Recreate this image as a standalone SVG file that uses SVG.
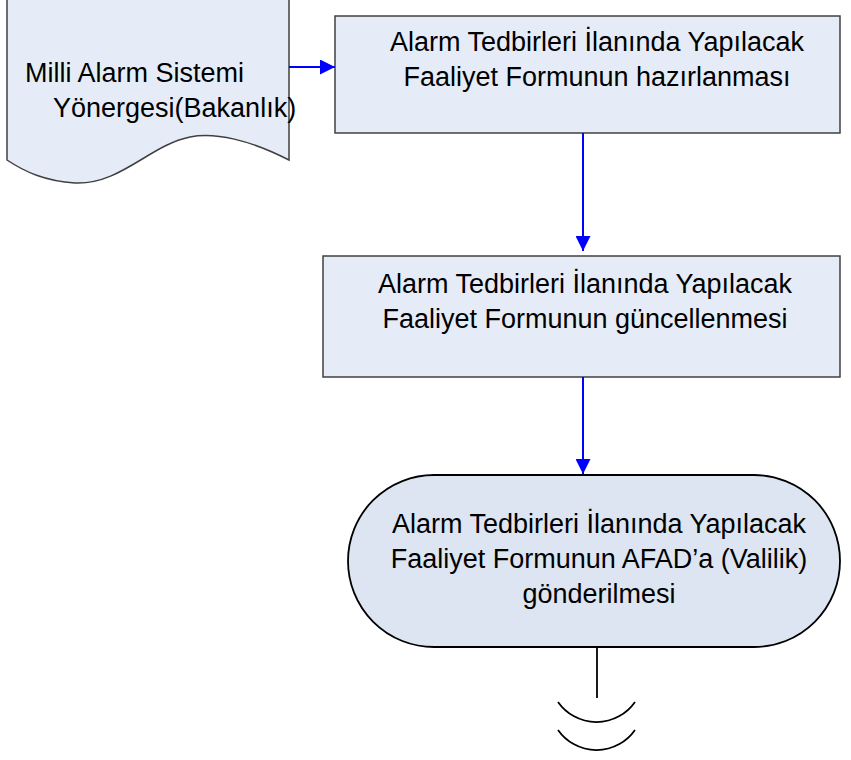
<svg xmlns="http://www.w3.org/2000/svg" width="851" height="760" viewBox="0 0 851 760">
<style>
.box{fill:#E6ECF7;stroke:#404040;stroke-width:1.5}
.term{fill:#DCE5F1;stroke:#000;stroke-width:1.8}
.t{font-family:"Liberation Sans",Arial,sans-serif;font-size:27px;fill:#000}
.c{text-anchor:middle}
.conn{stroke:#0000FF;stroke-width:2;fill:none}
.blk{stroke:#000;stroke-width:1.8;fill:none}
</style>
<defs>
<marker id="ah" viewBox="0 0 10 10" refX="10" refY="5" markerWidth="15" markerHeight="15" markerUnits="userSpaceOnUse" orient="auto">
<path d="M0,0 L10,5 L0,10 z" fill="#0000FF"/>
</marker>
</defs>
<rect width="851" height="760" fill="#fff"/>
<g id="doc">
<path class="box" d="M7,-5 L289,-5 L289,160 C250,140 215,132 190,137 C150,145 120,185 75,183 C45,181 25,172 7,160 Z"/>
<text class="t" x="25" y="82">Milli Alarm Sistemi</text>
<text class="t" x="53" y="117">Yönergesi(Bakanlık)</text>
</g>
<g id="box1">
<rect class="box" x="335" y="16" width="505" height="117"/>
<text class="t c" x="597" y="51">Alarm Tedbirleri İlanında Yapılacak</text>
<text class="t c" x="597" y="86">Faaliyet Formunun hazırlanması</text>
</g>
<g id="box2">
<rect class="box" x="323" y="256" width="517" height="121"/>
<text class="t c" x="585" y="293">Alarm Tedbirleri İlanında Yapılacak</text>
<text class="t c" x="585" y="328">Faaliyet Formunun güncellenmesi</text>
</g>
<g id="term">
<rect class="term" x="348" y="475" width="492" height="172" rx="86" ry="86"/>
<text class="t c" x="599" y="533">Alarm Tedbirleri İlanında Yapılacak</text>
<text class="t c" x="599" y="568">Faaliyet Formunun AFAD’a (Valilik)</text>
<text class="t c" x="599" y="603">gönderilmesi</text>
</g>
<g id="connectors">
<line class="conn" x1="289" y1="67" x2="335" y2="67" marker-end="url(#ah)"/>
<line class="conn" x1="583" y1="133" x2="583" y2="251" marker-end="url(#ah)"/>
<line class="conn" x1="583" y1="377" x2="583" y2="474" marker-end="url(#ah)"/>
<line class="blk" x1="597" y1="647" x2="597" y2="698"/>
<path class="blk" d="M558,702 A47,47 0 0 0 635,702"/>
<path class="blk" d="M558,730 A47,47 0 0 0 635,730"/>
</g>
</svg>
